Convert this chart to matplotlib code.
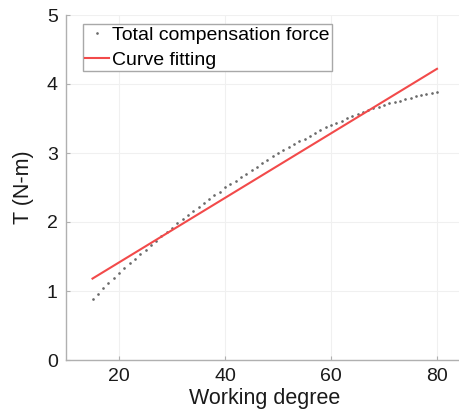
import matplotlib
matplotlib.use("Agg")
import matplotlib.pyplot as plt

plt.rcParams['font.family'] = ['Liberation Sans', 'DejaVu Sans']

# Measured total compensation torque at each working degree
degree = list(range(15, 81))
torque = [0.88, 0.96, 1.04, 1.11, 1.19, 1.26, 1.33, 1.40, 1.47, 1.54,
          1.60, 1.67, 1.73, 1.80, 1.86, 1.92, 1.98, 2.04, 2.10, 2.16,
          2.22, 2.28, 2.33, 2.39, 2.44, 2.50, 2.55, 2.60, 2.65, 2.70,
          2.75, 2.80, 2.85, 2.90, 2.95, 3.00, 3.04, 3.09, 3.13, 3.17,
          3.21, 3.25, 3.29, 3.33, 3.37, 3.40, 3.44, 3.47, 3.50, 3.53,
          3.56, 3.59, 3.62, 3.65, 3.67, 3.70, 3.72, 3.74, 3.76, 3.78,
          3.80, 3.82, 3.84, 3.85, 3.87, 3.88]

# Linear fit endpoints
fit_degree = [15, 80]
fit_torque = [1.18, 4.22]

x_ticks = [20, 40, 60, 80]
y_ticks = [0, 1, 2, 3, 4, 5]

fig = plt.figure(figsize=(4.6, 4.19), dpi=100)
ax = fig.add_axes([66 / 460, 59 / 419, 397.5 / 460, 345 / 419])

ax.plot(degree, torque, linestyle='none', marker='.', markersize=1.8,
        color='#6a6a6a', label='Total compensation force')
ax.plot(fit_degree, fit_torque, color='#f24a4a', linewidth=1.5,
        label='Curve fitting')

ax.set_xlim(10, 85)
ax.set_ylim(0, 5)
ax.set_xticks(x_ticks)
ax.set_yticks(y_ticks)
ax.grid(True, color='#f0f0f0', linewidth=0.8)
ax.set_axisbelow(True)

for side in ('top', 'right'):
    ax.spines[side].set_visible(False)
for side in ('left', 'bottom'):
    ax.spines[side].set_color('#b0b0b0')
    ax.spines[side].set_linewidth(1.0)

ax.tick_params(direction='in', length=3, color='#b0b0b0',
               labelsize=14, labelcolor='#1a1a1a', pad=6)

ax.set_xlabel('Working degree', fontsize=15.5, color='#1a1a1a', labelpad=2)
ax.set_ylabel('T (N-m)', fontsize=15.5, color='#1a1a1a', labelpad=9)

leg = ax.legend(loc='upper left', bbox_to_anchor=(0.043, 0.975),
                fontsize=14, handlelength=1.2, handletextpad=0.15,
                borderpad=0.12, labelspacing=0.4, fancybox=False,
                framealpha=1, edgecolor='#a8a8a8', markerscale=1.0,
                borderaxespad=0.0)
leg.get_frame().set_linewidth(1.0)

fig.savefig('out.png', dpi=100)
